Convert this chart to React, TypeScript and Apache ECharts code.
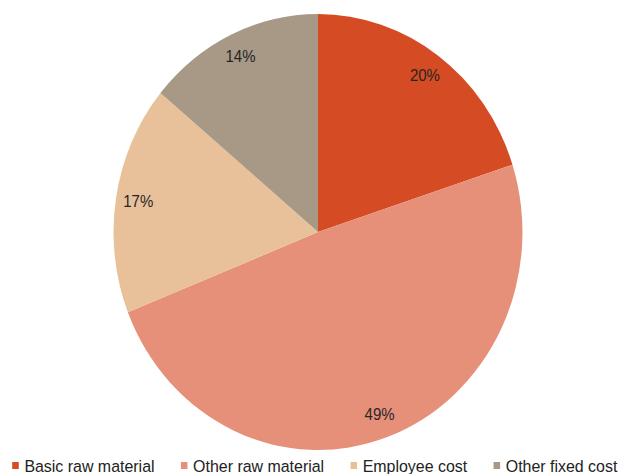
import React, { useEffect, useRef } from "react";
import * as echarts from "echarts";

const categories = ["Basic raw material", "Other raw material", "Employee cost", "Other fixed cost"];
const values = [20, 49, 17, 14];
const colors = ["#D54B24", "#E6907A", "#E8C19B", "#A89886"];

const SX = 0.938;
const W = Math.round(618 / SX);

export default function App() {
  const ref = useRef<HTMLDivElement>(null);
  useEffect(() => {
    if (!ref.current) return;
    const chart = echarts.init(ref.current, null, { renderer: "svg" });
    const data = categories.map((name, i) => ({ name, value: values[i], itemStyle: { color: colors[i] } }));
    chart.setOption({
      animation: false,
      textStyle: { fontFamily: "Liberation Sans, Arial, sans-serif" },
      legend: {
        data: categories,
        left: 13,
        top: 457,
        width: 720,
        padding: 0,
        itemWidth: 7,
        itemHeight: 7,
        itemGap: 28,
        icon: "rect",
        textStyle: { fontSize: 17, color: "#222", padding: [0, 0, 0, 1] },
      },
      series: [
        {
          type: "pie",
          center: [339, 232],
          radius: [0, 218],
          startAngle: 90,
          clockwise: true,
          data,
          label: { show: false },
          labelLine: { show: false },
          silent: true,
        },
        {
          type: "pie",
          center: [339, 232],
          radius: [164, 218],
          startAngle: 90,
          clockwise: true,
          data: categories.map((name, i) => ({ name, value: values[i] })),
          itemStyle: { color: "rgba(0,0,0,0)" },
          label: {
            show: true,
            position: "inside",
            formatter: "{c}%",
            fontSize: 16,
            color: "#262626",
            fontFamily: "Liberation Sans, Arial, sans-serif",
          },
          labelLine: { show: false },
          silent: true,
          legendHoverLink: false,
        },
      ],
    });
    return () => chart.dispose();
  }, []);
  return (
    <div
      ref={ref}
      style={{
        position: "fixed",
        left: 0,
        top: 0,
        width: W,
        height: 480,
        transform: `scaleX(${SX})`,
        transformOrigin: "left top",
        background: "#fff",
      }}
    />
  );
}
